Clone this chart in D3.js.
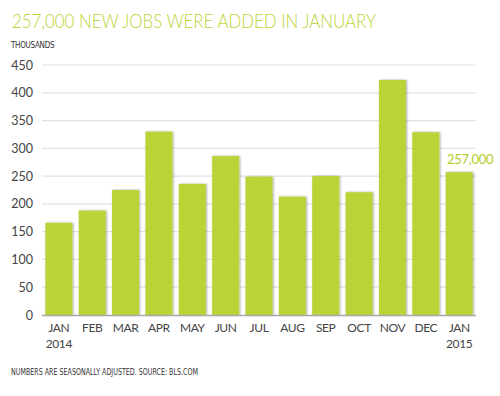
<!DOCTYPE html>
<html><head><meta charset="utf-8">
<script src="https://cdn.jsdelivr.net/npm/d3@7"></script>
<style>body{margin:0;background:#fff;}svg{display:block;}</style>
</head><body>
<script>
const months = ["JAN","FEB","MAR","APR","MAY","JUN","JUL","AUG","SEP","OCT","NOV","DEC","JAN"];
const years = ["2014","","","","","","","","","","","","2015"];
const jobs = [166,188,225,330,236,286,249,213,250,221,423,329,257];
const yTicks = [0,50,100,150,200,250,300,350,400,450];
const title = "257,000 NEW JOBS WERE ADDED IN JANUARY";
const unitLabel = "THOUSANDS";
const note = "NUMBERS ARE SEASONALLY ADJUSTED. SOURCE: BLS.COM";
const callout = "257,000";

const W=500,H=396;
const green="#bcd337";
const svg=d3.select("body").append("svg").attr("width",W).attr("height",H);
const defs=svg.append("defs");
const f=defs.append("filter").attr("id","sh").attr("x","-20%").attr("y","-5%").attr("width","140%").attr("height","110%");
f.append("feDropShadow").attr("dx",1).attr("dy",0).attr("stdDeviation",0.8).attr("flood-color","#000").attr("flood-opacity",0.35);

const x=d3.scaleBand().domain(d3.range(months.length)).range([42,476]).paddingInner(0.19).paddingOuter(0.1);
const y=d3.scaleLinear().domain([0,450]).range([315,65]);

svg.append("text").attr("x",12).attr("y",28).attr("fill",green)
  .attr("font-family","Lato, 'Open Sans', sans-serif").attr("font-weight",300).attr("font-size",19.5)
  .attr("textLength",364).attr("lengthAdjust","spacingAndGlyphs")
  .text(title);
svg.append("text").attr("x",11).attr("y",48).attr("fill","#333")
  .attr("font-family","'Liberation Sans Narrow','DejaVu Sans Condensed',sans-serif").attr("font-size",8).attr("letter-spacing",-0.3)
  .text(unitLabel);

const g=svg.append("g");
g.selectAll("line.grid").data(yTicks.filter(d=>d>0)).join("line")
  .attr("x1",42).attr("x2",476).attr("y1",d=>y(d)).attr("y2",d=>y(d))
  .attr("stroke","#e2e2e2").attr("stroke-width",1.2);
g.selectAll("text.yt").data(yTicks).join("text")
  .attr("x",33).attr("y",d=>y(d)+4.5).attr("text-anchor","end")
  .attr("fill","#444").attr("font-family","Lato, sans-serif").attr("font-size",12.5)
  .text(d=>d);

g.selectAll("rect.bar").data(jobs).join("rect")
  .attr("x",(d,i)=>x(i)).attr("width",x.bandwidth())
  .attr("y",d=>y(d)).attr("height",d=>y(0)-y(d))
  .attr("fill",green).attr("filter","url(#sh)");

g.append("line").attr("x1",42).attr("x2",476).attr("y1",315.5).attr("y2",315.5)
  .attr("stroke","#a8a8a8").attr("stroke-width",1.5);

g.selectAll("text.xl").data(months).join("text")
  .attr("x",(d,i)=>x(i)+x.bandwidth()/2).attr("y",332).attr("text-anchor","middle")
  .attr("fill","#444").attr("font-family","Lato, sans-serif").attr("font-size",12).attr("letter-spacing",-0.4)
  .text(d=>d);
g.selectAll("text.yr").data(years).join("text")
  .attr("x",(d,i)=>x(i)+x.bandwidth()/2).attr("y",348).attr("text-anchor","middle")
  .attr("fill","#444").attr("font-family","Lato, sans-serif").attr("font-size",12).attr("letter-spacing",-0.4)
  .text(d=>d);

const last=jobs.length-1;
svg.append("text").attr("x",x(last)+x.bandwidth()/2+11).attr("y",y(jobs[last])-8).attr("text-anchor","middle")
  .attr("fill","#b4cc2a").attr("font-family","Lato, sans-serif").attr("font-weight",400).attr("font-size",13)
  .attr("letter-spacing",-0.3)
  .text(callout);

svg.append("text").attr("x",11).attr("y",375).attr("fill","#333")
  .attr("font-family","'Liberation Sans Narrow','DejaVu Sans Condensed',sans-serif").attr("font-size",8)
  .attr("textLength",187).attr("lengthAdjust","spacingAndGlyphs")
  .text(note);
</script>
</body></html>
